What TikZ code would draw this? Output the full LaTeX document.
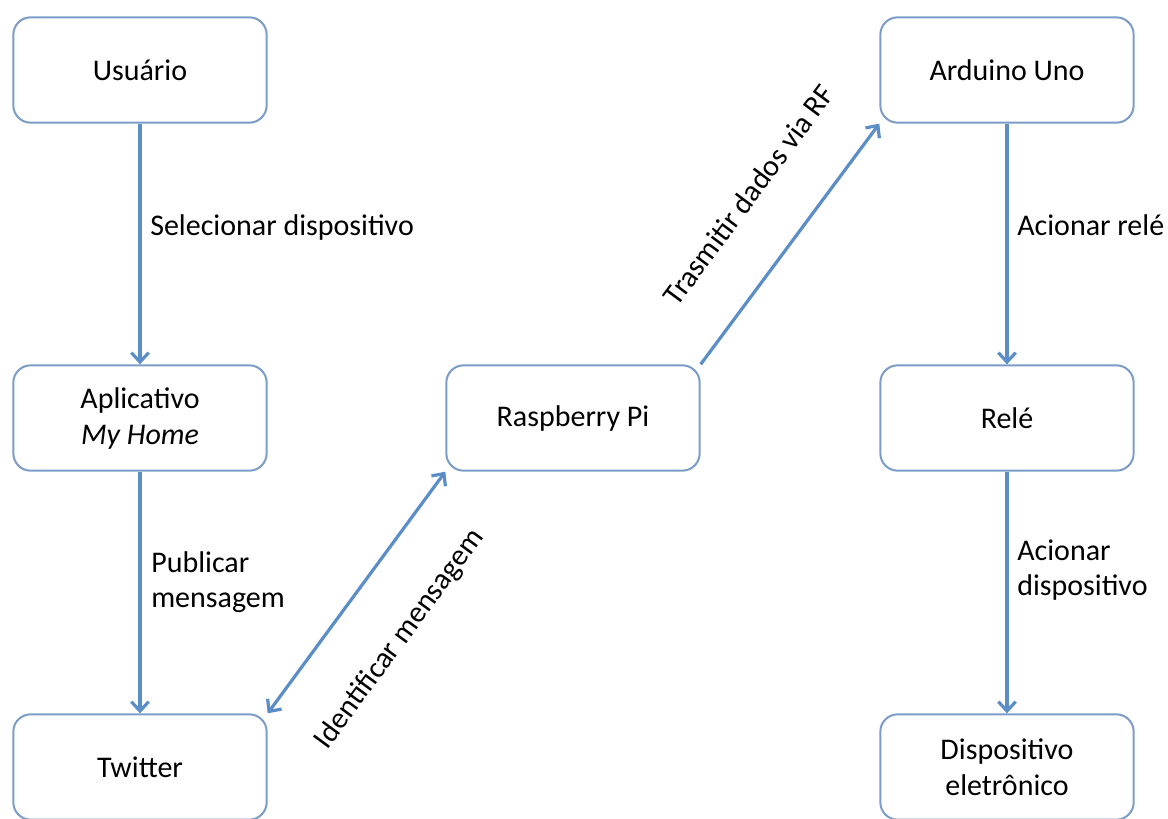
\documentclass[tikz,border=0pt]{standalone}
\usepackage{fontspec}
\setmainfont{Carlito}
\usetikzlibrary{arrows.meta}
\definecolor{boxline}{HTML}{7C9CC8}
\definecolor{arrowline}{HTML}{5B8DC6}
\begin{document}
\begin{tikzpicture}[x=0.75pt,y=-0.75pt,
  box/.style={draw=boxline,line width=1.5pt,rounded corners=13pt,fill=white,
    minimum width=190pt,minimum height=79pt,align=center,
    font=\fontsize{22.5}{27}\selectfont},
  link/.style={arrowline,line width=2.4pt,-{Straight Barb[length=7pt,width=13pt]}},
  twoway/.style={link,{Straight Barb[length=7pt,width=13pt]}-{Straight Barb[length=7pt,width=13pt]}},
  lbl/.style={inner sep=0pt,align=left,text=black,font=\fontsize{22.5}{26}\selectfont}]
  \useasboundingbox (0,0) rectangle (1168,818);
  % boxes
  \node[box] (usuario) at (140,70) {Usuário};
  \node[box] (app) at (140,418) {Aplicativo\\\textit{My Home}};
  \node[box] (twitter) at (140,767) {Twitter};
  \node[box] (rasp) at (573,418) {Raspberry Pi};
  \node[box] (arduino) at (1007,70) {Arduino Uno};
  \node[box] (rele) at (1007,418) {Relé};
  \node[box] (disp) at (1007,767) {Dispositivo\\eletrônico};
  % connectors
  \draw[link] (usuario) -- (app);
  \draw[link] (app) -- (twitter);
  \draw[twoway] (twitter.north east) -- node[lbl,sloped,pos=0.46,below=36pt] {Identificar mensagem} (rasp.south west);
  \draw[link] (rasp.north east) -- node[lbl,sloped,pos=0.55,above=38pt] {Trasmitir dados via RF} (arduino.south west);
  \draw[link] (arduino) -- (rele);
  \draw[link] (rele) -- (disp);
  % labels
  \node[lbl,anchor=base west] (lsel) at (150,235) {Selecionar dispositivo};
  \node[lbl,anchor=west] (lpub) at (151,582) {Publicar\\mensagem};
  \node[lbl,anchor=base west] (lrele) at (1017,235) {Acionar relé};
  \node[lbl,anchor=west] (ldisp) at (1017,570) {Acionar\\dispositivo};
\end{tikzpicture}
\end{document}
